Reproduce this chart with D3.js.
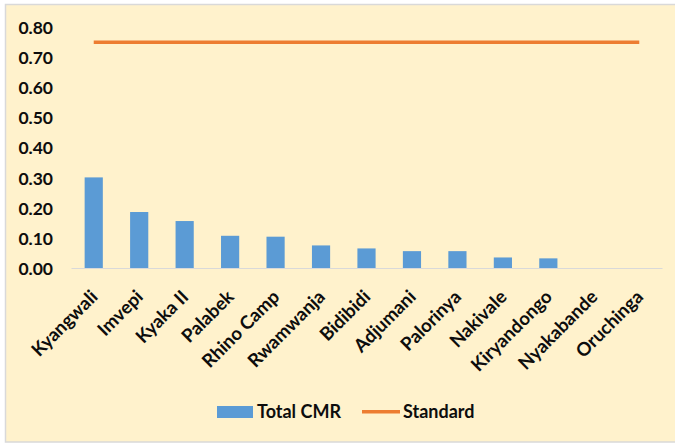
<!DOCTYPE html>
<html>
<head>
<meta charset="utf-8">
<script src="https://cdn.jsdelivr.net/npm/d3@7"></script>
<style>
  html, body { margin: 0; padding: 0; background: #ffffff; }
  svg { display: block; }
  text { font-family: Lato, "Open Sans", sans-serif; font-weight: bold; fill: #0d0d0d; }
</style>
</head>
<body>
<script>
const categories = ["Kyangwali", "Imvepi", "Kyaka II", "Palabek", "Rhino Camp", "Rwamwanja", "Bidibidi", "Adjumani", "Palorinya", "Nakivale", "Kiryandongo", "Nyakabande", "Oruchinga"];
const totalCMR = [0.301, 0.186, 0.156, 0.107, 0.104, 0.075, 0.065, 0.056, 0.056, 0.035, 0.032, 0, 0];
const standard = [0.75, 0.75, 0.75, 0.75, 0.75, 0.75, 0.75, 0.75, 0.75, 0.75, 0.75, 0.75, 0.75];
const yTicks = [0, 0.1, 0.2, 0.3, 0.4, 0.5, 0.6, 0.7, 0.8];
const seriesNames = ["Total CMR", "Standard"];

const W = 675, H = 445;
const svg = d3.select("body").append("svg").attr("width", W).attr("height", H);

// chart area background
svg.append("rect")
  .attr("x", 5.5).attr("y", 4.5).attr("width", W + 10).attr("height", 437.5)
  .attr("fill", "#FFF2CC").attr("stroke", "#D9D9D9").attr("stroke-width", 1.5);

const x = d3.scaleBand().domain(categories).range([71, 662]).padding(0);
const y = d3.scaleLinear().domain([0, 0.8]).range([268, 27.2]);

// y axis labels
const yAxis = d3.axisLeft(y).tickValues(yTicks).tickFormat(d3.format(".2f")).tickSize(0).tickPadding(0);
const yg = svg.append("g").attr("transform", "translate(53,0)").call(yAxis);
yg.select(".domain").remove();
yg.selectAll("text").style("font-size", "17.5px").attr("fill", "#0d0d0d").attr("dy", "0.36em");

// bars
const bw = x.bandwidth() * 0.4;
svg.append("g").selectAll("rect").data(categories).join("rect")
  .attr("x", (d) => x(d) + x.bandwidth() / 2 - bw / 2)
  .attr("y", (d, i) => y(totalCMR[i]))
  .attr("width", bw)
  .attr("height", (d, i) => y(0) - y(totalCMR[i]))
  .attr("fill", "#5B9BD5");

// x axis
const xAxis = d3.axisBottom(x).tickSize(0).tickPadding(0);
const xg = svg.append("g").attr("transform", `translate(0,${y(0)})`).call(xAxis);
xg.select(".domain").attr("stroke", "#D9D9D9").attr("stroke-width", 1);
xg.selectAll("text")
  .style("font-size", "18.5px")
  .attr("fill", "#0d0d0d")
  .attr("text-anchor", "end")
  .attr("dy", null)
  .attr("y", 0)
  .attr("transform", "translate(5,30) rotate(-45)");

// standard line
const line = d3.line().x((d, i) => x(categories[i]) + x.bandwidth() / 2).y((d) => y(d));
svg.append("path").datum(standard)
  .attr("d", line)
  .attr("fill", "none")
  .attr("stroke", "#ED7D31")
  .attr("stroke-width", 3.5);

// legend
const lg = svg.append("g");
lg.append("rect").attr("x", 217).attr("y", 406).attr("width", 36).attr("height", 12).attr("fill", "#5B9BD5");
lg.append("text").attr("x", 257).attr("y", 418.3).style("font-size", "18px").text(seriesNames[0]);
lg.append("line").attr("x1", 362).attr("x2", 400).attr("y1", 411.7).attr("y2", 411.7)
  .attr("stroke", "#ED7D31").attr("stroke-width", 3.5);
lg.append("text").attr("x", 403).attr("y", 418.3).style("font-size", "18px").text(seriesNames[1]);
</script>
</body>
</html>
